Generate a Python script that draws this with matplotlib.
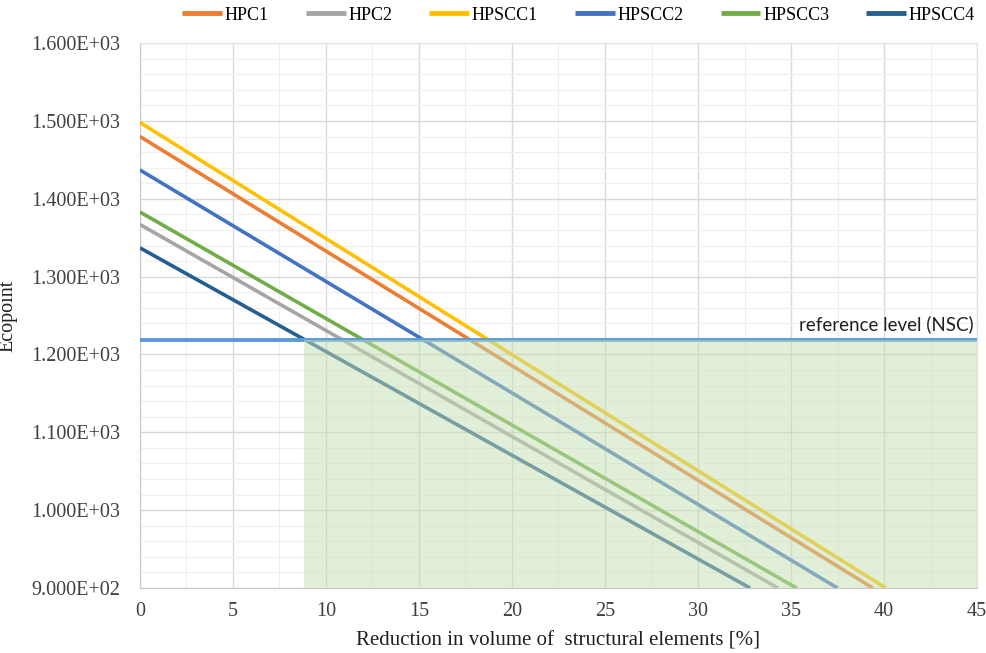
import matplotlib
matplotlib.use("Agg")
import matplotlib.pyplot as plt
from matplotlib.ticker import MultipleLocator, FuncFormatter

# ---- data ----
series_names = ["HPC1", "HPC2", "HPSCC1", "HPSCC2", "HPSCC3", "HPSCC4"]
series_colors = ["#ED7D31", "#A5A5A5", "#FFC000", "#4472C4", "#70AD47", "#255E91"]
# each line: value at 0 % reduction and reduction [%] where it reaches 900
start_values = [1480, 1367, 1498, 1437, 1383, 1337]
end_reduction = [39.4, 34.3, 40.1, 37.5, 35.3, 32.8]
end_value = 900
reference_level = 1218
reference_label = "reference level (NSC)"
shade_start = 8.8
x_limits = [0, 45]
y_limits = [900, 1600]
x_label = "Reduction in volume of  structural elements [%]"
y_label = "Ecopoint"

serif = ["Liberation Serif", "DejaVu Serif"]

fig = plt.figure(figsize=(9.87, 6.53), dpi=100)
ax = fig.add_axes([0.1418, 0.0995, 0.8481, 0.8345])

lines = []
for name, col, y0, xe in zip(series_names, series_colors, start_values, end_reduction):
    ln, = ax.plot([0, xe], [y0, end_value], color=col, lw=2.6, label=name,
                  solid_capstyle="butt", zorder=3)
    lines.append(ln)

# reference level line
ax.axhline(reference_level, color="#5B9BD5", lw=2.8, zorder=4)
ax.text(44.8, reference_level + 10, reference_label, ha="right", va="bottom",
        fontsize=13.5, family=["Lato", "DejaVu Sans"], color="#202020", zorder=5)

# shaded feasible area (drawn on top, semi-transparent)
ax.fill_between([shade_start, x_limits[1]], y_limits[0], reference_level,
                color="#C5E0B4", alpha=0.5, lw=0, zorder=4.5)

ax.set_xlim(*x_limits)
ax.set_ylim(*y_limits)
ax.xaxis.set_major_locator(MultipleLocator(5))
ax.xaxis.set_minor_locator(MultipleLocator(2.5))
ax.yaxis.set_major_locator(MultipleLocator(100))
ax.yaxis.set_minor_locator(MultipleLocator(20))
ax.yaxis.set_major_formatter(FuncFormatter(lambda v, p: "%.3fE+%02d" % (v / 10 ** len(str(int(v))) * 10, len(str(int(v))) - 1)))

ax.grid(which="major", color="#D9D9D9", lw=1.0, zorder=0)
ax.grid(which="minor", color="#EFEFEF", lw=0.8, zorder=0)
ax.set_axisbelow(True)
for s in ["top", "right"]:
    ax.spines[s].set_color("#E4E4E4")
for s in ["left", "bottom"]:
    ax.spines[s].set_color("#C8C8C8")
ax.tick_params(which="both", length=0)
ax.tick_params(axis="x", pad=10, labelsize=14.5)
ax.tick_params(axis="y", pad=14, labelsize=14.5)
for lab in ax.get_xticklabels() + ax.get_yticklabels():
    lab.set_family(serif)
    lab.set_color("#404040")

ax.set_xlabel(x_label, fontsize=15, family=serif, color="#202020")
ax.set_ylabel(y_label, fontsize=14.5, family=serif, color="#202020")
ax.xaxis.set_label_coords(0.5, -0.079)
ax.yaxis.set_label_coords(-0.146, 0.5)

leg = ax.legend(handles=lines, loc="center", bbox_to_anchor=(0.524, 1.051), ncol=6,
                frameon=False, prop={"family": serif, "size": 13},
                handlelength=2.2, handletextpad=0.15, columnspacing=2.05,
                borderaxespad=0)
for h in leg.legend_handles:
    h.set_linewidth(3.5)

fig.savefig("out.png", dpi=100)
